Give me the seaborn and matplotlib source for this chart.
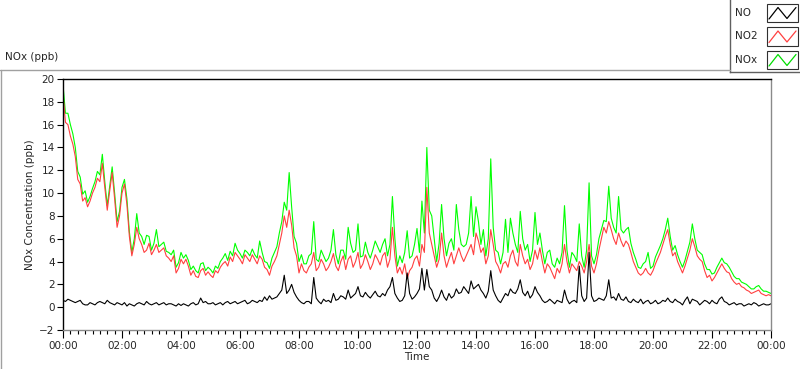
import numpy as np
import pandas as pd
import matplotlib
matplotlib.use("Agg")
import matplotlib.pyplot as plt
import seaborn as sns
from matplotlib.ticker import FixedLocator, MultipleLocator
from matplotlib.lines import Line2D
from matplotlib.patches import Rectangle

# ---- data, ppb ----
# readings on the 10-minute marks (00:00, 00:10, ... 24:00)
no2_10 = [18.7, 16.0, 14.3, 11.2, 9.3, 8.8, 10.0, 11.3, 12.6, 8.5, 11.8, 7.0, 10.0, 9.0, 4.5, 7.0, 5.5, 5.0, 4.6, 5.5,
          5.0, 4.5, 4.0, 3.0, 4.2, 4.2, 2.8, 2.7, 3.2, 2.8, 2.8, 3.2, 3.5, 4.0, 4.4, 4.8, 4.2, 4.6, 4.0, 4.2,
          4.5, 3.5, 2.8, 4.0, 5.5, 8.0, 8.5, 5.2, 3.0, 3.2, 3.5, 4.8, 3.5, 3.8, 3.5, 4.7, 3.2, 4.5, 4.2, 3.5,
          4.8, 3.8, 4.0, 3.8, 4.2, 4.5, 3.5, 7.0, 3.0, 2.9, 2.5, 3.5, 4.5, 5.5, 10.5, 5.5, 3.5, 6.5, 3.5, 4.8,
          4.5, 4.5, 4.5, 5.5, 6.5, 4.8, 3.8, 6.8, 4.0, 3.0, 4.0, 4.5, 4.0, 5.5, 3.8, 3.3, 5.0, 5.2, 3.0, 3.5,
          2.5, 3.0, 5.5, 3.0, 3.5, 4.0, 3.0, 5.5, 3.0, 5.0, 7.0, 7.5, 6.0, 6.5, 5.3, 5.5, 4.0, 3.0, 3.0, 3.0,
          3.2, 4.3, 5.5, 6.8, 4.5, 4.0, 3.0, 4.3, 6.0, 4.5, 4.0, 2.6, 2.3, 3.0, 3.8, 3.1, 2.5, 2.0, 1.8, 1.5,
          1.2, 1.4, 1.2, 1.0, 1.0]
# readings on the 5-minute marks in between (00:05, 00:15, ... 23:55)
no2_05 = [16.2, 15.0, 13.2, 10.8, 9.6, 9.3, 10.5, 11.0, 10.5, 10.2, 9.5, 8.0, 10.8, 6.2, 5.5, 6.0, 4.8, 5.6, 5.0, 4.8,
          5.2, 4.3, 4.5, 3.4, 3.8, 3.6, 3.2, 2.6, 3.4, 3.1, 2.6, 3.0, 3.8, 3.6, 4.0, 4.5, 3.8, 4.3, 4.6, 3.8,
          4.2, 3.3, 3.6, 4.5, 6.5, 7.0, 7.2, 4.5, 3.8, 3.0, 3.8, 3.2, 4.2, 3.2, 4.0, 3.6, 4.0, 3.3, 4.5, 4.0,
          3.4, 4.6, 3.3, 4.6, 3.7, 4.8, 4.2, 4.5, 3.5, 3.8, 3.2, 4.2, 3.6, 4.8, 6.5, 4.5, 4.2, 4.5, 4.2, 3.8,
          5.2, 4.0, 5.0, 4.6, 5.8, 5.2, 4.5, 5.5, 3.6, 3.8, 3.5, 5.0, 3.6, 4.5, 4.2, 3.8, 4.2, 4.0, 3.8, 3.0,
          3.4, 3.8, 4.0, 3.8, 3.2, 3.6, 4.0, 3.6, 3.8, 6.0, 6.5, 6.8, 5.5, 5.8, 5.8, 4.8, 3.5, 2.8, 3.4, 2.8,
          3.8, 4.8, 6.2, 5.5, 4.8, 3.5, 3.6, 5.0, 5.3, 4.2, 3.2, 2.8, 2.6, 3.4, 3.4, 3.0, 2.2, 2.1, 1.7, 1.4,
          1.3, 1.5, 1.1, 1.1]
nox_10 = [19.5, 17.0, 15.2, 11.9, 9.9, 9.2, 10.4, 11.9, 13.4, 8.9, 12.3, 7.5, 10.5, 9.5, 4.8, 8.2, 6.2, 6.3, 5.0, 6.8,
          5.5, 4.9, 4.6, 3.5, 4.8, 4.6, 3.3, 3.2, 3.8, 3.2, 3.3, 3.6, 4.0, 4.7, 4.9, 5.6, 4.7, 5.0, 4.5, 4.6,
          5.8, 4.0, 3.4, 4.8, 6.5, 9.2, 11.8, 6.2, 4.0, 3.8, 4.5, 7.5, 4.0, 4.5, 4.3, 6.8, 3.8, 5.0, 7.0, 4.8,
          7.3, 4.5, 4.8, 5.0, 5.3, 5.5, 4.5, 9.7, 3.6, 3.9, 6.7, 4.5, 6.9, 9.3, 14.0, 8.0, 4.0, 9.0, 4.5, 6.0,
          9.0, 5.5, 5.5, 9.7, 8.8, 5.5, 4.5, 13.0, 5.0, 3.8, 7.7, 7.8, 5.5, 8.4, 5.0, 4.0, 8.3, 6.5, 3.8, 5.0,
          3.5, 3.8, 8.9, 3.5, 4.5, 7.3, 3.5, 10.9, 3.8, 6.0, 7.6, 10.6, 7.0, 9.7, 6.5, 7.0, 4.8, 3.5, 3.8, 4.8,
          3.6, 4.9, 6.0, 7.8, 5.0, 4.6, 3.5, 4.9, 7.3, 5.0, 4.6, 3.3, 2.9, 3.5, 4.3, 3.8, 3.1, 2.5, 2.2, 2.0,
          1.6, 1.8, 1.6, 1.4, 1.2]
nox_05 = [17.0, 16.0, 14.0, 11.4, 10.2, 9.7, 11.0, 11.6, 11.0, 10.6, 10.0, 8.4, 11.2, 6.6, 6.0, 6.5, 5.5, 6.2, 5.6, 5.3,
          5.7, 4.8, 5.0, 3.9, 4.3, 4.1, 3.6, 3.0, 3.9, 3.5, 3.0, 3.4, 4.3, 4.1, 4.5, 5.0, 4.3, 4.8, 5.1, 4.3,
          4.8, 3.9, 4.3, 5.3, 7.5, 8.5, 8.8, 5.6, 4.6, 3.8, 4.7, 4.2, 5.0, 4.0, 5.0, 4.6, 5.0, 4.2, 5.6, 5.0,
          4.4, 5.7, 4.3, 5.8, 4.8, 6.0, 5.5, 6.0, 4.5, 4.8, 4.3, 5.5, 4.8, 6.5, 8.5, 6.0, 5.6, 6.0, 5.6, 5.0,
          6.8, 5.3, 6.5, 6.2, 7.5, 6.8, 6.0, 7.0, 4.8, 4.8, 4.8, 6.5, 4.8, 6.0, 5.5, 5.0, 5.5, 5.0, 4.8, 3.8,
          4.3, 4.8, 5.0, 4.8, 4.0, 4.5, 5.0, 4.5, 4.6, 6.8, 7.5, 7.8, 6.5, 6.8, 6.8, 5.6, 4.2, 3.4, 4.0, 3.4,
          4.4, 5.4, 6.8, 6.2, 5.4, 4.0, 4.1, 5.7, 6.0, 4.8, 3.8, 3.3, 3.0, 3.9, 3.9, 3.5, 2.7, 2.5, 2.1, 1.8,
          1.6, 1.9, 1.4, 1.3]
no_10 = [0.6, 0.7, 0.5, 0.5, 0.3, 0.2, 0.3, 0.4, 0.4, 0.6, 0.3, 0.4, 0.2, 0.1, 0.2, 0.3, 0.3, 0.5, 0.2, 0.4,
         0.3, 0.2, 0.3, 0.1, 0.15, 0.2, 0.3, 0.2, 0.8, 0.5, 0.3, 0.2, 0.4, 0.4, 0.3, 0.5, 0.4, 0.6, 0.4, 0.5,
         0.6, 0.9, 1.0, 0.8, 1.2, 2.8, 1.5, 1.3, 0.6, 0.3, 0.5, 2.6, 0.5, 0.7, 0.6, 1.2, 0.7, 0.9, 1.5, 1.0,
         1.8, 0.9, 1.0, 1.1, 1.0, 1.2, 1.5, 2.6, 0.8, 0.6, 3.0, 0.7, 1.2, 3.4, 3.3, 1.5, 0.5, 1.5, 0.6, 0.8,
         1.6, 1.3, 1.5, 2.3, 1.8, 1.5, 0.8, 3.2, 1.0, 0.4, 1.2, 1.6, 1.2, 2.4, 1.0, 0.8, 1.8, 1.0, 0.4, 0.7,
         0.3, 0.5, 1.5, 0.3, 0.6, 3.6, 0.5, 4.8, 0.5, 0.8, 0.6, 2.4, 0.9, 1.2, 0.6, 0.5, 0.7, 0.4, 0.3, 0.6,
         0.4, 0.3, 0.6, 0.8, 0.4, 0.5, 0.2, 0.9, 0.7, 0.5, 0.4, 0.5, 0.6, 0.3, 0.9, 0.4, 0.3, 0.2, 0.3, 0.2,
         0.2, 0.3, 0.2, 0.2, 0.3]
no_05 = [0.5, 0.6, 0.4, 0.6, 0.2, 0.4, 0.2, 0.5, 0.3, 0.4, 0.2, 0.3, 0.4, 0.3, 0.1, 0.4, 0.2, 0.3, 0.3, 0.2,
         0.4, 0.3, 0.2, 0.3, 0.3, 0.1, 0.4, 0.3, 0.4, 0.3, 0.4, 0.3, 0.2, 0.5, 0.4, 0.3, 0.5, 0.3, 0.6, 0.4,
         0.5, 0.6, 0.7, 0.9, 1.5, 1.2, 2.0, 0.9, 0.4, 0.5, 0.3, 0.8, 0.3, 0.5, 0.4, 0.6, 1.0, 0.7, 0.8, 1.2,
         1.0, 1.3, 0.8, 1.4, 0.9, 1.0, 1.8, 1.2, 0.5, 1.0, 1.2, 0.9, 1.6, 1.5, 1.8, 0.8, 0.9, 0.9, 1.2, 1.0,
         1.2, 1.8, 1.2, 1.6, 2.0, 1.2, 1.4, 1.5, 0.6, 0.8, 1.0, 1.3, 1.6, 1.3, 1.4, 1.1, 1.3, 0.6, 0.5, 0.5,
         0.6, 0.4, 0.7, 0.5, 0.4, 1.0, 0.8, 1.0, 0.6, 0.7, 1.0, 0.8, 0.6, 0.7, 0.9, 0.4, 0.5, 0.7, 0.5, 0.3,
         0.6, 0.4, 0.5, 0.5, 0.7, 0.4, 0.6, 0.3, 0.6, 0.2, 0.6, 0.3, 0.4, 0.7, 0.5, 0.2, 0.4, 0.3, 0.1, 0.3,
         0.4, 0.1, 0.3, 0.2]
tick_hours = list(range(0, 25, 2))
tick_labels = [f"{h % 24:02d}:00" for h in tick_hours]


def merge(on10, on05):
    vals = []
    for i, v in enumerate(on10):
        vals.append(v)
        if i < len(on05):
            vals.append(on05[i])
    return vals


minutes = np.arange(0, 24 * 60 + 1, 5)
df = pd.DataFrame({
    "hour": minutes / 60.0,
    "NO": merge(no_10, no_05),
    "NO2": merge(no2_10, no2_05),
    "NOx": merge(nox_10, nox_05),
})

sns.set_style("white")
plt.rcParams["font.family"] = ["DejaVu Sans"]
plt.rcParams["font.size"] = 7.5

W, H = 800, 369
fig = plt.figure(figsize=(W / 100, H / 100), dpi=100)
fig.patch.set_facecolor("white")
ax = fig.add_axes([63 / W, 1 - 330 / H, (771 - 63) / W, (330 - 79) / H])

sns.lineplot(data=df, x="hour", y="NOx", ax=ax, color="#00ff00", lw=0.8, legend=False)
sns.lineplot(data=df, x="hour", y="NO2", ax=ax, color="#ff4040", lw=0.8, legend=False)
sns.lineplot(data=df, x="hour", y="NO", ax=ax, color="#000000", lw=0.8, legend=False)

ax.set_xlim(0, 24)
ax.set_ylim(-2, 20)
ax.xaxis.set_major_locator(FixedLocator(tick_hours))
ax.set_xticklabels(tick_labels, fontsize=7.5)
ax.xaxis.set_minor_locator(MultipleLocator(0.25))
ax.yaxis.set_major_locator(MultipleLocator(2))
ax.tick_params(axis="y", which="major", direction="out", length=4, width=0.8, color="black", labelsize=7.5, pad=2, left=True)
ax.tick_params(axis="x", which="major", direction="out", length=6, width=0.8, color="black", labelsize=7.5, pad=2, bottom=True)
ax.tick_params(axis="x", which="minor", direction="out", length=3, width=0.8, color="black", bottom=True)
ax.set_xlabel("Time", fontsize=7.5, labelpad=1)
ax.set_ylabel("NOx Concentration (ppb)", fontsize=7.5, labelpad=3)
for s in ["left", "top"]:
    ax.spines[s].set_color("black")
    ax.spines[s].set_linewidth(1.0)
for s in ["right", "bottom"]:
    ax.spines[s].set_color("#8a8a8a")
    ax.spines[s].set_linewidth(1.0)

# panel title and frame
fig.text(5 / W, 1 - 57 / H, "NOx (ppb)", fontsize=7.5, va="center", ha="left")
fig.add_artist(Line2D([0, 730 / W], [1 - 69.5 / H] * 2, color="#a0a0a0", lw=1.0))
fig.add_artist(Line2D([0.6 / W] * 2, [0, 1 - 69.5 / H], color="#a0a0a0", lw=1.0))

# legend panel
lax = fig.add_axes([730 / W, 1 - 72 / H, 70 / W, 72 / H])
lax.set_xlim(0, 70)
lax.set_ylim(72, 0)
lax.set_xticks([])
lax.set_yticks([])
lax.patch.set_facecolor("white")
for s in ["top", "right"]:
    lax.spines[s].set_visible(False)
for s in ["left", "bottom"]:
    lax.spines[s].set_color("#606060")
    lax.spines[s].set_linewidth(1.0)
entries = [("NO", "#000000", 3.5), ("NO2", "#ff4040", 27), ("NOx", "#00dd00", 50.5)]
for name, col, y0 in entries:
    lax.text(5, y0 + 9.3, name, fontsize=7.5, va="center", ha="left")
    lax.add_patch(Rectangle((37, y0), 31, 18.5, facecolor="white", edgecolor="#303030", lw=0.8))
    lax.plot([39, 48, 57, 66], [y0 + 15.5, y0 + 4, y0 + 15, y0 + 4], color=col, lw=0.9)

fig.savefig("out.png", dpi=100)
